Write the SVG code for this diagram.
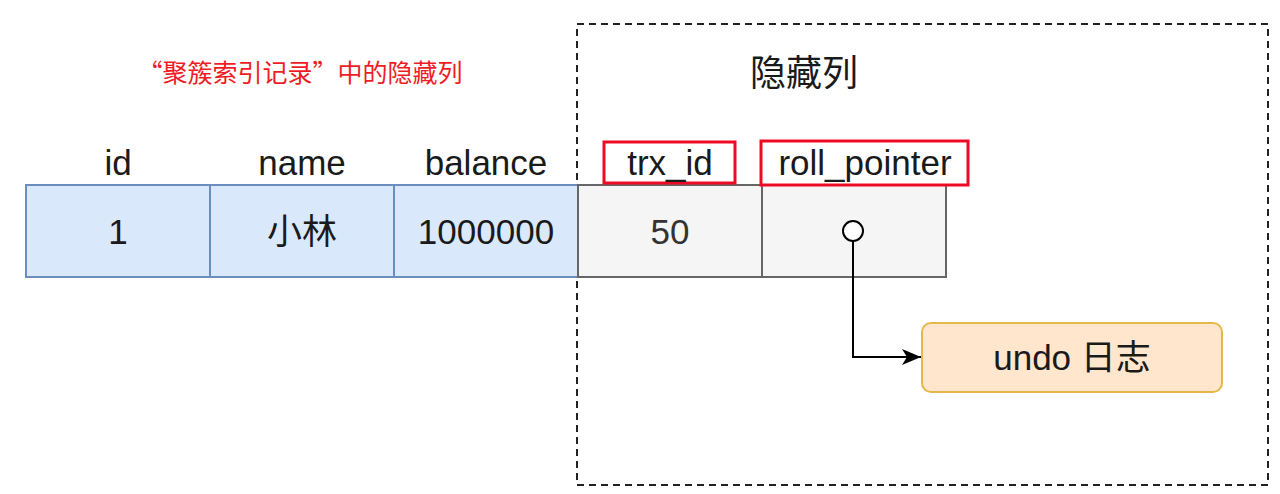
<svg xmlns="http://www.w3.org/2000/svg" width="1280" height="494" viewBox="0 0 1280 494">
<defs>
<style>
.t{font-family:"Liberation Sans","Noto Sans CJK SC",Arial,sans-serif;fill:#1a1a1a;text-anchor:middle}
.cjk{font-family:"Noto Sans CJK SC","Liberation Sans",sans-serif}
.blue{fill:#dae8fc;stroke:#6c8ebf;stroke-width:2}
.grey{fill:#f5f5f5;stroke:#666666;stroke-width:2}
.red{fill:none;stroke:#ee0a24;stroke-width:3}
</style>
<marker id="arr" markerWidth="20" markerHeight="18" refX="19" refY="9" orient="auto" markerUnits="userSpaceOnUse">
<path d="M0,1 L19,9 L0,17 L5,9 Z" fill="#000"/>
</marker>
</defs>
<rect width="1280" height="494" fill="#fff"/>
<g id="hidden-group">
<rect x="577" y="24" width="691" height="461" fill="none" stroke="#222" stroke-width="2" stroke-dasharray="7,5"/>
<text class="t cjk" x="804" y="86" font-size="36">隐藏列</text>
</g>
<g id="caption">
<text class="t cjk" x="300" y="82" font-size="25" style="fill:#ee1c25">“聚簇索引记录”中的隐藏列</text>
</g>
<g id="headers">
<text class="t" x="118" y="175" font-size="35">id</text>
<text class="t" x="302" y="175" font-size="35">name</text>
<text class="t" x="486" y="175" font-size="35">balance</text>
</g>
<g id="col-id"><rect class="blue" x="26" y="185" width="184" height="92"/><text class="t" x="118" y="244" font-size="35">1</text></g>
<g id="col-name"><rect class="blue" x="210" y="185" width="184" height="92"/><text class="t" x="302" y="244" font-size="35">小林</text></g>
<g id="col-balance"><rect class="blue" x="394" y="185" width="184" height="92"/><text class="t" x="486" y="244" font-size="35">1000000</text></g>
<g id="col-trx"><rect class="grey" x="578" y="185" width="184" height="92"/><text class="t" x="670" y="244" font-size="35" style="fill:#333">50</text></g>
<g id="col-roll"><rect class="grey" x="762" y="185" width="184" height="92"/></g>
<g id="label-trx"><rect class="red" x="604" y="142" width="131" height="41"/><text class="t" x="670" y="175" font-size="35">trx_id</text></g>
<g id="label-roll"><rect class="red" x="761" y="141" width="207" height="44"/><text class="t" x="865" y="175" font-size="35">roll_pointer</text></g>
<g id="undo"><rect x="922" y="323" width="300" height="69" rx="9" fill="#ffe6cc" stroke="#e6b84a" stroke-width="2"/><text class="t" x="1072" y="370" font-size="35">undo 日志</text></g>
<g id="connectors">
<path d="M853,241 V357 H921" fill="none" stroke="#000" stroke-width="2" marker-end="url(#arr)"/>
<circle cx="853" cy="231" r="10" fill="#fff" stroke="#000" stroke-width="2"/>
</g>
</svg>
